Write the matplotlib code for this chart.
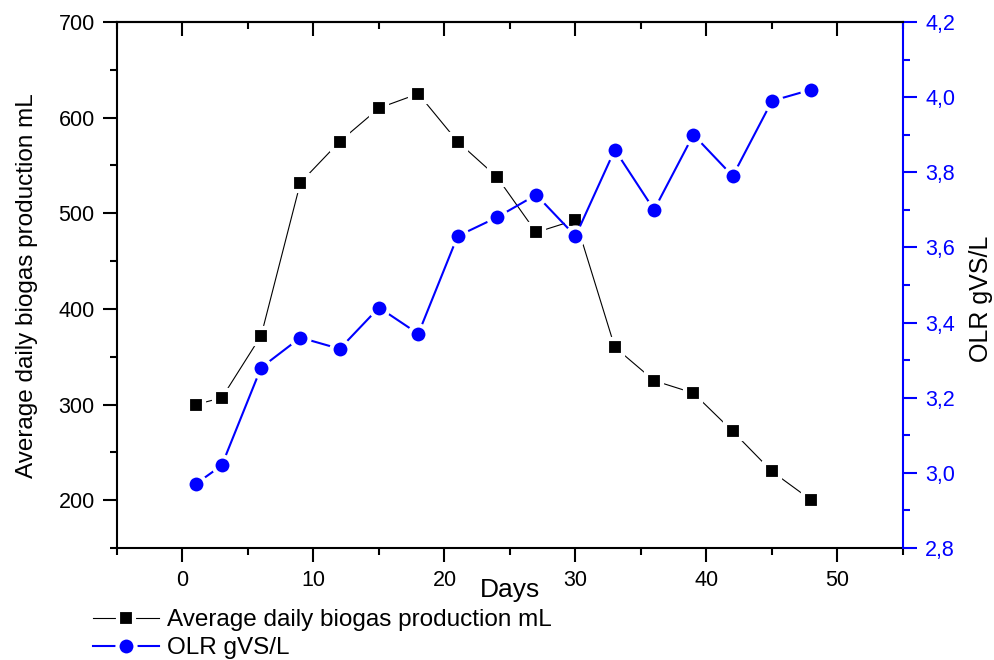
import matplotlib
matplotlib.use("Agg")
import matplotlib.pyplot as plt
from matplotlib.ticker import MultipleLocator, FuncFormatter

plt.rcParams['font.family'] = ['Liberation Sans', 'DejaVu Sans']

days = [1, 3, 6, 9, 12, 15, 18, 21, 24, 27, 30, 33, 36, 39, 42, 45, 48]
biogas = [300, 307, 372, 532, 575, 610, 625, 575, 538, 480, 493, 360, 325, 312, 272, 230, 200]
olr = [2.97, 3.02, 3.28, 3.36, 3.33, 3.44, 3.37, 3.63, 3.68, 3.74, 3.63, 3.86, 3.70, 3.90, 3.79, 3.99, 4.02]

W, H = 995, 660
L, R, T, B = 117, 903, 22, 548

fig = plt.figure(figsize=(W/100, H/100), dpi=100)
ax = fig.add_axes([L/W, 1-B/H, (R-L)/W, (B-T)/H])
ax2 = ax.twinx()

blue = '#0000ff'
l1, = ax.plot(days, biogas, color='black', lw=0.8, marker='s', markersize=12,
              markerfacecolor='black', markeredgecolor='white', markeredgewidth=3,
              label='Average daily biogas production mL', zorder=3)
l2, = ax2.plot(days, olr, color=blue, lw=1.5, marker='o', markersize=13,
               markerfacecolor=blue, markeredgecolor='white', markeredgewidth=3,
               label='OLR gVS/L', zorder=4)

ax.set_xlim(-5, 55)
ax.set_ylim(150, 700)
ax2.set_ylim(2.8, 4.2)

ax.set_xticks([0, 10, 20, 30, 40, 50])
ax.xaxis.set_minor_locator(MultipleLocator(5))
ax.set_yticks([200, 300, 400, 500, 600, 700])
ax.yaxis.set_minor_locator(MultipleLocator(50))
ax2.yaxis.set_major_locator(MultipleLocator(0.2))
ax2.yaxis.set_minor_locator(MultipleLocator(0.1))
ax2.yaxis.set_major_formatter(FuncFormatter(lambda v, p: f"{v:.1f}".replace('.', ',')))

for sp in ['left', 'bottom', 'top']:
    ax.spines[sp].set_linewidth(1.5)
ax.spines['right'].set_visible(False)
ax2.spines['left'].set_visible(False)
ax2.spines['bottom'].set_visible(False)
ax2.spines['top'].set_linewidth(1.5)
ax2.spines['right'].set_color(blue)
ax2.spines['right'].set_linewidth(1.5)

ax.tick_params(axis='both', which='major', direction='out', length=10, width=1.5,
               labelsize=15.5, pad=6)
ax.tick_params(axis='both', which='minor', direction='out', length=5, width=1.5)
ax.tick_params(axis='x', which='both', top=True)
for t in ax.xaxis.get_major_ticks() + ax.xaxis.get_minor_ticks():
    t.tick2line.set_marker(3)  # top ticks point inward
ax2.tick_params(axis='y', which='major', direction='out', length=10, width=1.5,
                colors=blue, labelsize=15.5, pad=6)
ax2.tick_params(axis='y', which='minor', direction='out', length=5, width=1.5, colors=blue)

ax.set_xlabel('Days', fontsize=19)
ax.xaxis.label.set_va('center')
ax.xaxis.set_label_coords(0.5, (B-590)/(B-T))

ax.set_ylabel('Average daily biogas production mL', fontsize=17.5)
ax.yaxis.label.set_ha('center')
ax.yaxis.label.set_va('center')
ax.yaxis.set_label_coords((27-L)/(R-L), (B-286)/(B-T))

ax2.set_ylabel('OLR gVS/L', fontsize=18, rotation=90)
ax2.yaxis.label.set_ha('center')
ax2.yaxis.label.set_va('center')
ax2.yaxis.set_label_coords((981-L)/(R-L), (B-299)/(B-T))

fig.legend(handles=[l1, l2], loc='upper left', bbox_to_anchor=(93/W, 1-609/H),
           frameon=False, fontsize=17.5, handlelength=2.7, handletextpad=0.35,
           labelspacing=0.25, borderaxespad=0, borderpad=0)

fig.savefig('out.png', dpi=100)
